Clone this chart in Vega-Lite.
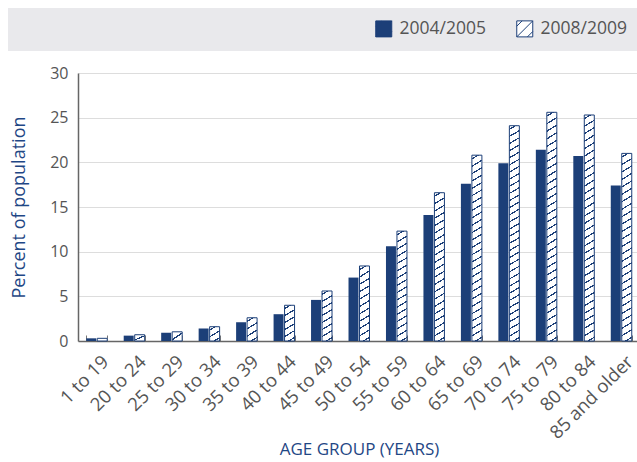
{
  "$schema": "https://vega.github.io/schema/vega-lite/v6.json",
  "width": 562,
  "height": 268,
  "autosize": {"type": "none"},
  "padding": {"left": 78, "top": 73, "right": 0, "bottom": 121},
  "background": "white",
  "config": {"font": "Open Sans", "view": {"stroke": null}},
  "data": {"values": [
    {"age": "1 to 19", "series": "2004/2005", "value": 0.3},
    {"age": "20 to 24", "series": "2004/2005", "value": 0.6},
    {"age": "25 to 29", "series": "2004/2005", "value": 0.92},
    {"age": "30 to 34", "series": "2004/2005", "value": 1.4},
    {"age": "35 to 39", "series": "2004/2005", "value": 2.1},
    {"age": "40 to 44", "series": "2004/2005", "value": 3.0},
    {"age": "45 to 49", "series": "2004/2005", "value": 4.6},
    {"age": "50 to 54", "series": "2004/2005", "value": 7.1},
    {"age": "55 to 59", "series": "2004/2005", "value": 10.6},
    {"age": "60 to 64", "series": "2004/2005", "value": 14.1},
    {"age": "65 to 69", "series": "2004/2005", "value": 17.6},
    {"age": "70 to 74", "series": "2004/2005", "value": 19.9},
    {"age": "75 to 79", "series": "2004/2005", "value": 21.4},
    {"age": "80 to 84", "series": "2004/2005", "value": 20.7},
    {"age": "85 and older", "series": "2004/2005", "value": 17.4},
    {"age": "1 to 19", "series": "2008/2009", "value": 0.3},
    {"age": "20 to 24", "series": "2008/2009", "value": 0.7},
    {"age": "25 to 29", "series": "2008/2009", "value": 1.03},
    {"age": "30 to 34", "series": "2008/2009", "value": 1.6},
    {"age": "35 to 39", "series": "2008/2009", "value": 2.6},
    {"age": "40 to 44", "series": "2008/2009", "value": 4.0},
    {"age": "45 to 49", "series": "2008/2009", "value": 5.6},
    {"age": "50 to 54", "series": "2008/2009", "value": 8.4},
    {"age": "55 to 59", "series": "2008/2009", "value": 12.3},
    {"age": "60 to 64", "series": "2008/2009", "value": 16.6},
    {"age": "65 to 69", "series": "2008/2009", "value": 20.8},
    {"age": "70 to 74", "series": "2008/2009", "value": 24.1},
    {"age": "75 to 79", "series": "2008/2009", "value": 25.6},
    {"age": "80 to 84", "series": "2008/2009", "value": 25.3},
    {"age": "85 and older", "series": "2008/2009", "value": 21.0}
  ]},
  "encoding": {
    "x": {
      "field": "age", "type": "nominal", "sort": null,
      "scale": {"paddingInner": 0.44, "paddingOuter": 0.22},
      "axis": {
        "title": "AGE GROUP (YEARS)", "labelAngle": -45, "labelFontSize": 18.5, "labelColor": "#555555",
        "labelPadding": 17, "labelOffset": 2, "labelOverlap": false, "tickBand": "extent", "tickSize": -6,
        "tickColor": "#777777", "tickWidth": 1, "domainColor": "#666666", "domainWidth": 1.5,
        "grid": false, "titleFontSize": 17, "titleFontWeight": "normal", "titleColor": "#1f4785", "titlePadding": 0
      }
    },
    "xOffset": {"field": "series", "type": "nominal", "scale": {"paddingInner": 0.09}},
    "y": {
      "field": "value", "type": "quantitative", "scale": {"domain": [0, 30]},
      "axis": {
        "title": "Percent of population", "values": [0, 5, 10, 15, 20, 25, 30], "grid": true,
        "gridColor": "#dddddd", "gridWidth": 1.2, "ticks": false, "domainColor": "#666666", "domainWidth": 1.5,
        "labelFontSize": 16, "labelColor": "#555555", "labelPadding": 10,
        "titleFontSize": 18, "titleFontWeight": "normal", "titleColor": "#1f4785", "titlePadding": 21
      }
    }
  },
  "layer": [
    {
      "mark": {"type": "bar"},
      "encoding": {
        "color": {
          "field": "series", "type": "nominal",
          "scale": {"domain": ["2004/2005", "2008/2009"], "range": ["#1c3f78", "#ffffff"]},
          "legend": {
            "orient": "none", "legendX": -70, "legendY": -65, "direction": "horizontal",
            "title": " ", "titleOrient": "left", "titleFontSize": 1, "titlePadding": 355,
            "fillColor": "#e9e9ec", "padding": 12,
            "symbolType": "M-1,-1H1V1H-1Z M-1,-0.333L-0.333,-1 M-1,1L1,-1 M0.333,1L1,0.333",
            "symbolSize": 256,
            "symbolStrokeColor": "#1c3f78", "symbolStrokeWidth": 1, "symbolOpacity": 1,
            "labelFontSize": 17.5, "labelColor": "#555555", "labelOffset": 7, "columnPadding": 28
          }
        }
      }
    },
    {
      "transform": [{"filter": "datum.series === '2008/2009'"}],
      "mark": {"type": "bar", "stroke": "#1c3f78", "strokeWidth": 1},
      "encoding": {
        "fill": {
          "condition": [
            {"test": "datum.value < 0.5", "value": "#ffffff"},
            {"test": "datum.value < 1.3", "value": {"gradient": "linear", "x1": 0, "y1": 0, "x2": 0.84, "y2": 1.12, "stops": [
              {"offset": 0.45, "color": "#fff"}, {"offset": 0.45, "color": "#1c3f78"}, {"offset": 0.55, "color": "#1c3f78"}, {"offset": 0.55, "color": "#fff"}
            ]}},
            {"test": "datum.value < 2", "value": {"gradient": "linear", "x1": 0, "y1": 0, "x2": 0.507, "y2": 1.207, "stops": [
              {"offset": 0.1322, "color": "#fff"}, {"offset": 0.1322, "color": "#1c3f78"}, {"offset": 0.2012, "color": "#1c3f78"}, {"offset": 0.2012, "color": "#fff"},
              {"offset": 0.4655, "color": "#fff"}, {"offset": 0.4655, "color": "#1c3f78"}, {"offset": 0.5345, "color": "#1c3f78"}, {"offset": 0.5345, "color": "#fff"},
              {"offset": 0.7988, "color": "#fff"}, {"offset": 0.7988, "color": "#1c3f78"}, {"offset": 0.8678, "color": "#1c3f78"}, {"offset": 0.8678, "color": "#fff"}
            ]}},
            {"test": "datum.value < 3.3", "value": {"gradient": "linear", "x1": 0, "y1": 0, "x2": 0.305, "y2": 1.18, "stops": [
              {"offset": 0.101, "color": "#fff"}, {"offset": 0.101, "color": "#1c3f78"}, {"offset": 0.149, "color": "#1c3f78"}, {"offset": 0.149, "color": "#fff"},
              {"offset": 0.351, "color": "#fff"}, {"offset": 0.351, "color": "#1c3f78"}, {"offset": 0.399, "color": "#1c3f78"}, {"offset": 0.399, "color": "#fff"},
              {"offset": 0.601, "color": "#fff"}, {"offset": 0.601, "color": "#1c3f78"}, {"offset": 0.649, "color": "#1c3f78"}, {"offset": 0.649, "color": "#fff"},
              {"offset": 0.851, "color": "#fff"}, {"offset": 0.851, "color": "#1c3f78"}, {"offset": 0.899, "color": "#1c3f78"}, {"offset": 0.899, "color": "#fff"}
            ]}},
            {"test": "datum.value < 4.8", "value": {"gradient": "linear", "x1": 0, "y1": 0, "x2": 0.191, "y2": 1.136, "stops": [
              {"offset": 0.0666, "color": "#fff"}, {"offset": 0.0666, "color": "#1c3f78"}, {"offset": 0.1, "color": "#1c3f78"}, {"offset": 0.1, "color": "#fff"},
              {"offset": 0.2333, "color": "#fff"}, {"offset": 0.2333, "color": "#1c3f78"}, {"offset": 0.2667, "color": "#1c3f78"}, {"offset": 0.2667, "color": "#fff"},
              {"offset": 0.4, "color": "#fff"}, {"offset": 0.4, "color": "#1c3f78"}, {"offset": 0.4334, "color": "#1c3f78"}, {"offset": 0.4334, "color": "#fff"},
              {"offset": 0.5666, "color": "#fff"}, {"offset": 0.5666, "color": "#1c3f78"}, {"offset": 0.6, "color": "#1c3f78"}, {"offset": 0.6, "color": "#fff"},
              {"offset": 0.7333, "color": "#fff"}, {"offset": 0.7333, "color": "#1c3f78"}, {"offset": 0.7667, "color": "#1c3f78"}, {"offset": 0.7667, "color": "#fff"},
              {"offset": 0.9, "color": "#fff"}, {"offset": 0.9, "color": "#1c3f78"}, {"offset": 0.9334, "color": "#1c3f78"}, {"offset": 0.9334, "color": "#fff"}
            ]}},
            {"test": "datum.value < 7", "value": {"gradient": "linear", "x1": 0, "y1": 0, "x2": 0.132, "y2": 1.104, "stops": [
              {"offset": 0.05, "color": "#fff"}, {"offset": 0.05, "color": "#1c3f78"}, {"offset": 0.075, "color": "#1c3f78"}, {"offset": 0.075, "color": "#fff"},
              {"offset": 0.175, "color": "#fff"}, {"offset": 0.175, "color": "#1c3f78"}, {"offset": 0.2, "color": "#1c3f78"}, {"offset": 0.2, "color": "#fff"},
              {"offset": 0.3, "color": "#fff"}, {"offset": 0.3, "color": "#1c3f78"}, {"offset": 0.325, "color": "#1c3f78"}, {"offset": 0.325, "color": "#fff"},
              {"offset": 0.425, "color": "#fff"}, {"offset": 0.425, "color": "#1c3f78"}, {"offset": 0.45, "color": "#1c3f78"}, {"offset": 0.45, "color": "#fff"},
              {"offset": 0.55, "color": "#fff"}, {"offset": 0.55, "color": "#1c3f78"}, {"offset": 0.575, "color": "#1c3f78"}, {"offset": 0.575, "color": "#fff"},
              {"offset": 0.675, "color": "#fff"}, {"offset": 0.675, "color": "#1c3f78"}, {"offset": 0.7, "color": "#1c3f78"}, {"offset": 0.7, "color": "#fff"},
              {"offset": 0.8, "color": "#fff"}, {"offset": 0.8, "color": "#1c3f78"}, {"offset": 0.825, "color": "#1c3f78"}, {"offset": 0.825, "color": "#fff"},
              {"offset": 0.925, "color": "#fff"}, {"offset": 0.925, "color": "#1c3f78"}, {"offset": 0.95, "color": "#1c3f78"}, {"offset": 0.95, "color": "#fff"}
            ]}},
            {"test": "datum.value < 10", "value": {"gradient": "linear", "x1": 0, "y1": 0, "x2": 0.0863, "y2": 1.0735, "stops": [
              {"offset": 0.0368, "color": "#fff"}, {"offset": 0.0368, "color": "#1c3f78"}, {"offset": 0.0542, "color": "#1c3f78"}, {"offset": 0.0542, "color": "#fff"},
              {"offset": 0.1277, "color": "#fff"}, {"offset": 0.1277, "color": "#1c3f78"}, {"offset": 0.1451, "color": "#1c3f78"}, {"offset": 0.1451, "color": "#fff"},
              {"offset": 0.2186, "color": "#fff"}, {"offset": 0.2186, "color": "#1c3f78"}, {"offset": 0.236, "color": "#1c3f78"}, {"offset": 0.236, "color": "#fff"},
              {"offset": 0.3095, "color": "#fff"}, {"offset": 0.3095, "color": "#1c3f78"}, {"offset": 0.3269, "color": "#1c3f78"}, {"offset": 0.3269, "color": "#fff"},
              {"offset": 0.4004, "color": "#fff"}, {"offset": 0.4004, "color": "#1c3f78"}, {"offset": 0.4178, "color": "#1c3f78"}, {"offset": 0.4178, "color": "#fff"},
              {"offset": 0.4913, "color": "#fff"}, {"offset": 0.4913, "color": "#1c3f78"}, {"offset": 0.5087, "color": "#1c3f78"}, {"offset": 0.5087, "color": "#fff"},
              {"offset": 0.5822, "color": "#fff"}, {"offset": 0.5822, "color": "#1c3f78"}, {"offset": 0.5996, "color": "#1c3f78"}, {"offset": 0.5996, "color": "#fff"},
              {"offset": 0.6731, "color": "#fff"}, {"offset": 0.6731, "color": "#1c3f78"}, {"offset": 0.6905, "color": "#1c3f78"}, {"offset": 0.6905, "color": "#fff"},
              {"offset": 0.764, "color": "#fff"}, {"offset": 0.764, "color": "#1c3f78"}, {"offset": 0.7814, "color": "#1c3f78"}, {"offset": 0.7814, "color": "#fff"},
              {"offset": 0.8549, "color": "#fff"}, {"offset": 0.8549, "color": "#1c3f78"}, {"offset": 0.8723, "color": "#1c3f78"}, {"offset": 0.8723, "color": "#fff"},
              {"offset": 0.9458, "color": "#fff"}, {"offset": 0.9458, "color": "#1c3f78"}, {"offset": 0.9632, "color": "#1c3f78"}, {"offset": 0.9632, "color": "#fff"}
            ]}},
            {"test": "datum.value < 14", "value": {"gradient": "linear", "x1": 0, "y1": 0, "x2": 0.0573, "y2": 1.0514, "stops": [
              {"offset": 0.0253, "color": "#fff"}, {"offset": 0.0253, "color": "#1c3f78"}, {"offset": 0.0373, "color": "#1c3f78"}, {"offset": 0.0373, "color": "#fff"},
              {"offset": 0.0878, "color": "#fff"}, {"offset": 0.0878, "color": "#1c3f78"}, {"offset": 0.0998, "color": "#1c3f78"}, {"offset": 0.0998, "color": "#fff"},
              {"offset": 0.1503, "color": "#fff"}, {"offset": 0.1503, "color": "#1c3f78"}, {"offset": 0.1623, "color": "#1c3f78"}, {"offset": 0.1623, "color": "#fff"},
              {"offset": 0.2128, "color": "#fff"}, {"offset": 0.2128, "color": "#1c3f78"}, {"offset": 0.2248, "color": "#1c3f78"}, {"offset": 0.2248, "color": "#fff"},
              {"offset": 0.2753, "color": "#fff"}, {"offset": 0.2753, "color": "#1c3f78"}, {"offset": 0.2873, "color": "#1c3f78"}, {"offset": 0.2873, "color": "#fff"},
              {"offset": 0.3378, "color": "#fff"}, {"offset": 0.3378, "color": "#1c3f78"}, {"offset": 0.3498, "color": "#1c3f78"}, {"offset": 0.3498, "color": "#fff"},
              {"offset": 0.4003, "color": "#fff"}, {"offset": 0.4003, "color": "#1c3f78"}, {"offset": 0.4123, "color": "#1c3f78"}, {"offset": 0.4123, "color": "#fff"},
              {"offset": 0.4628, "color": "#fff"}, {"offset": 0.4628, "color": "#1c3f78"}, {"offset": 0.4748, "color": "#1c3f78"}, {"offset": 0.4748, "color": "#fff"},
              {"offset": 0.5253, "color": "#fff"}, {"offset": 0.5253, "color": "#1c3f78"}, {"offset": 0.5373, "color": "#1c3f78"}, {"offset": 0.5373, "color": "#fff"},
              {"offset": 0.5878, "color": "#fff"}, {"offset": 0.5878, "color": "#1c3f78"}, {"offset": 0.5998, "color": "#1c3f78"}, {"offset": 0.5998, "color": "#fff"},
              {"offset": 0.6503, "color": "#fff"}, {"offset": 0.6503, "color": "#1c3f78"}, {"offset": 0.6623, "color": "#1c3f78"}, {"offset": 0.6623, "color": "#fff"},
              {"offset": 0.7128, "color": "#fff"}, {"offset": 0.7128, "color": "#1c3f78"}, {"offset": 0.7248, "color": "#1c3f78"}, {"offset": 0.7248, "color": "#fff"},
              {"offset": 0.7753, "color": "#fff"}, {"offset": 0.7753, "color": "#1c3f78"}, {"offset": 0.7873, "color": "#1c3f78"}, {"offset": 0.7873, "color": "#fff"},
              {"offset": 0.8378, "color": "#fff"}, {"offset": 0.8378, "color": "#1c3f78"}, {"offset": 0.8498, "color": "#1c3f78"}, {"offset": 0.8498, "color": "#fff"},
              {"offset": 0.9003, "color": "#fff"}, {"offset": 0.9003, "color": "#1c3f78"}, {"offset": 0.9123, "color": "#1c3f78"}, {"offset": 0.9123, "color": "#fff"},
              {"offset": 0.9628, "color": "#fff"}, {"offset": 0.9628, "color": "#1c3f78"}, {"offset": 0.9748, "color": "#1c3f78"}, {"offset": 0.9748, "color": "#fff"}
            ]}},
            {"test": "datum.value < 18.5", "value": {"gradient": "linear", "x1": 0, "y1": 0, "x2": 0.0421, "y2": 1.0388, "stops": [
              {"offset": 0.0193, "color": "#fff"}, {"offset": 0.0193, "color": "#1c3f78"}, {"offset": 0.0283, "color": "#1c3f78"}, {"offset": 0.0283, "color": "#fff"},
              {"offset": 0.0669, "color": "#fff"}, {"offset": 0.0669, "color": "#1c3f78"}, {"offset": 0.0759, "color": "#1c3f78"}, {"offset": 0.0759, "color": "#fff"},
              {"offset": 0.1145, "color": "#fff"}, {"offset": 0.1145, "color": "#1c3f78"}, {"offset": 0.1235, "color": "#1c3f78"}, {"offset": 0.1235, "color": "#fff"},
              {"offset": 0.1622, "color": "#fff"}, {"offset": 0.1622, "color": "#1c3f78"}, {"offset": 0.1712, "color": "#1c3f78"}, {"offset": 0.1712, "color": "#fff"},
              {"offset": 0.2098, "color": "#fff"}, {"offset": 0.2098, "color": "#1c3f78"}, {"offset": 0.2188, "color": "#1c3f78"}, {"offset": 0.2188, "color": "#fff"},
              {"offset": 0.2574, "color": "#fff"}, {"offset": 0.2574, "color": "#1c3f78"}, {"offset": 0.2664, "color": "#1c3f78"}, {"offset": 0.2664, "color": "#fff"},
              {"offset": 0.305, "color": "#fff"}, {"offset": 0.305, "color": "#1c3f78"}, {"offset": 0.314, "color": "#1c3f78"}, {"offset": 0.314, "color": "#fff"},
              {"offset": 0.3526, "color": "#fff"}, {"offset": 0.3526, "color": "#1c3f78"}, {"offset": 0.3616, "color": "#1c3f78"}, {"offset": 0.3616, "color": "#fff"},
              {"offset": 0.4003, "color": "#fff"}, {"offset": 0.4003, "color": "#1c3f78"}, {"offset": 0.4093, "color": "#1c3f78"}, {"offset": 0.4093, "color": "#fff"},
              {"offset": 0.4479, "color": "#fff"}, {"offset": 0.4479, "color": "#1c3f78"}, {"offset": 0.4569, "color": "#1c3f78"}, {"offset": 0.4569, "color": "#fff"},
              {"offset": 0.4955, "color": "#fff"}, {"offset": 0.4955, "color": "#1c3f78"}, {"offset": 0.5045, "color": "#1c3f78"}, {"offset": 0.5045, "color": "#fff"},
              {"offset": 0.5431, "color": "#fff"}, {"offset": 0.5431, "color": "#1c3f78"}, {"offset": 0.5521, "color": "#1c3f78"}, {"offset": 0.5521, "color": "#fff"},
              {"offset": 0.5907, "color": "#fff"}, {"offset": 0.5907, "color": "#1c3f78"}, {"offset": 0.5997, "color": "#1c3f78"}, {"offset": 0.5997, "color": "#fff"},
              {"offset": 0.6384, "color": "#fff"}, {"offset": 0.6384, "color": "#1c3f78"}, {"offset": 0.6474, "color": "#1c3f78"}, {"offset": 0.6474, "color": "#fff"},
              {"offset": 0.686, "color": "#fff"}, {"offset": 0.686, "color": "#1c3f78"}, {"offset": 0.695, "color": "#1c3f78"}, {"offset": 0.695, "color": "#fff"},
              {"offset": 0.7336, "color": "#fff"}, {"offset": 0.7336, "color": "#1c3f78"}, {"offset": 0.7426, "color": "#1c3f78"}, {"offset": 0.7426, "color": "#fff"},
              {"offset": 0.7812, "color": "#fff"}, {"offset": 0.7812, "color": "#1c3f78"}, {"offset": 0.7902, "color": "#1c3f78"}, {"offset": 0.7902, "color": "#fff"},
              {"offset": 0.8288, "color": "#fff"}, {"offset": 0.8288, "color": "#1c3f78"}, {"offset": 0.8378, "color": "#1c3f78"}, {"offset": 0.8378, "color": "#fff"},
              {"offset": 0.8765, "color": "#fff"}, {"offset": 0.8765, "color": "#1c3f78"}, {"offset": 0.8855, "color": "#1c3f78"}, {"offset": 0.8855, "color": "#fff"},
              {"offset": 0.9241, "color": "#fff"}, {"offset": 0.9241, "color": "#1c3f78"}, {"offset": 0.9331, "color": "#1c3f78"}, {"offset": 0.9331, "color": "#fff"},
              {"offset": 0.9717, "color": "#fff"}, {"offset": 0.9717, "color": "#1c3f78"}, {"offset": 0.9807, "color": "#1c3f78"}, {"offset": 0.9807, "color": "#fff"}
            ]}},
            {"test": "datum.value < 22.5", "value": {"gradient": "linear", "x1": 0, "y1": 0, "x2": 0.0331, "y2": 1.031, "stops": [
              {"offset": 0.0156, "color": "#fff"}, {"offset": 0.0156, "color": "#1c3f78"}, {"offset": 0.0228, "color": "#1c3f78"}, {"offset": 0.0228, "color": "#fff"},
              {"offset": 0.0541, "color": "#fff"}, {"offset": 0.0541, "color": "#1c3f78"}, {"offset": 0.0613, "color": "#1c3f78"}, {"offset": 0.0613, "color": "#fff"},
              {"offset": 0.0926, "color": "#fff"}, {"offset": 0.0926, "color": "#1c3f78"}, {"offset": 0.0998, "color": "#1c3f78"}, {"offset": 0.0998, "color": "#fff"},
              {"offset": 0.131, "color": "#fff"}, {"offset": 0.131, "color": "#1c3f78"}, {"offset": 0.1382, "color": "#1c3f78"}, {"offset": 0.1382, "color": "#fff"},
              {"offset": 0.1695, "color": "#fff"}, {"offset": 0.1695, "color": "#1c3f78"}, {"offset": 0.1767, "color": "#1c3f78"}, {"offset": 0.1767, "color": "#fff"},
              {"offset": 0.2079, "color": "#fff"}, {"offset": 0.2079, "color": "#1c3f78"}, {"offset": 0.2151, "color": "#1c3f78"}, {"offset": 0.2151, "color": "#fff"},
              {"offset": 0.2464, "color": "#fff"}, {"offset": 0.2464, "color": "#1c3f78"}, {"offset": 0.2536, "color": "#1c3f78"}, {"offset": 0.2536, "color": "#fff"},
              {"offset": 0.2849, "color": "#fff"}, {"offset": 0.2849, "color": "#1c3f78"}, {"offset": 0.2921, "color": "#1c3f78"}, {"offset": 0.2921, "color": "#fff"},
              {"offset": 0.3233, "color": "#fff"}, {"offset": 0.3233, "color": "#1c3f78"}, {"offset": 0.3305, "color": "#1c3f78"}, {"offset": 0.3305, "color": "#fff"},
              {"offset": 0.3618, "color": "#fff"}, {"offset": 0.3618, "color": "#1c3f78"}, {"offset": 0.369, "color": "#1c3f78"}, {"offset": 0.369, "color": "#fff"},
              {"offset": 0.4002, "color": "#fff"}, {"offset": 0.4002, "color": "#1c3f78"}, {"offset": 0.4074, "color": "#1c3f78"}, {"offset": 0.4074, "color": "#fff"},
              {"offset": 0.4387, "color": "#fff"}, {"offset": 0.4387, "color": "#1c3f78"}, {"offset": 0.4459, "color": "#1c3f78"}, {"offset": 0.4459, "color": "#fff"},
              {"offset": 0.4772, "color": "#fff"}, {"offset": 0.4772, "color": "#1c3f78"}, {"offset": 0.4844, "color": "#1c3f78"}, {"offset": 0.4844, "color": "#fff"},
              {"offset": 0.5156, "color": "#fff"}, {"offset": 0.5156, "color": "#1c3f78"}, {"offset": 0.5228, "color": "#1c3f78"}, {"offset": 0.5228, "color": "#fff"},
              {"offset": 0.5541, "color": "#fff"}, {"offset": 0.5541, "color": "#1c3f78"}, {"offset": 0.5613, "color": "#1c3f78"}, {"offset": 0.5613, "color": "#fff"},
              {"offset": 0.5926, "color": "#fff"}, {"offset": 0.5926, "color": "#1c3f78"}, {"offset": 0.5998, "color": "#1c3f78"}, {"offset": 0.5998, "color": "#fff"},
              {"offset": 0.631, "color": "#fff"}, {"offset": 0.631, "color": "#1c3f78"}, {"offset": 0.6382, "color": "#1c3f78"}, {"offset": 0.6382, "color": "#fff"},
              {"offset": 0.6695, "color": "#fff"}, {"offset": 0.6695, "color": "#1c3f78"}, {"offset": 0.6767, "color": "#1c3f78"}, {"offset": 0.6767, "color": "#fff"},
              {"offset": 0.7079, "color": "#fff"}, {"offset": 0.7079, "color": "#1c3f78"}, {"offset": 0.7151, "color": "#1c3f78"}, {"offset": 0.7151, "color": "#fff"},
              {"offset": 0.7464, "color": "#fff"}, {"offset": 0.7464, "color": "#1c3f78"}, {"offset": 0.7536, "color": "#1c3f78"}, {"offset": 0.7536, "color": "#fff"},
              {"offset": 0.7849, "color": "#fff"}, {"offset": 0.7849, "color": "#1c3f78"}, {"offset": 0.7921, "color": "#1c3f78"}, {"offset": 0.7921, "color": "#fff"},
              {"offset": 0.8233, "color": "#fff"}, {"offset": 0.8233, "color": "#1c3f78"}, {"offset": 0.8305, "color": "#1c3f78"}, {"offset": 0.8305, "color": "#fff"},
              {"offset": 0.8618, "color": "#fff"}, {"offset": 0.8618, "color": "#1c3f78"}, {"offset": 0.869, "color": "#1c3f78"}, {"offset": 0.869, "color": "#fff"},
              {"offset": 0.9002, "color": "#fff"}, {"offset": 0.9002, "color": "#1c3f78"}, {"offset": 0.9074, "color": "#1c3f78"}, {"offset": 0.9074, "color": "#fff"},
              {"offset": 0.9387, "color": "#fff"}, {"offset": 0.9387, "color": "#1c3f78"}, {"offset": 0.9459, "color": "#1c3f78"}, {"offset": 0.9459, "color": "#fff"},
              {"offset": 0.9772, "color": "#fff"}, {"offset": 0.9772, "color": "#1c3f78"}, {"offset": 0.9844, "color": "#1c3f78"}, {"offset": 0.9844, "color": "#fff"}
            ]}}
          ],
          "value": {"gradient": "linear", "x1": 0, "y1": 0, "x2": 0.0276, "y2": 1.0262, "stops": [
            {"offset": 0.013, "color": "#fff"}, {"offset": 0.013, "color": "#1c3f78"}, {"offset": 0.0192, "color": "#1c3f78"}, {"offset": 0.0192, "color": "#fff"},
            {"offset": 0.0453, "color": "#fff"}, {"offset": 0.0453, "color": "#1c3f78"}, {"offset": 0.0515, "color": "#1c3f78"}, {"offset": 0.0515, "color": "#fff"},
            {"offset": 0.0775, "color": "#fff"}, {"offset": 0.0775, "color": "#1c3f78"}, {"offset": 0.0837, "color": "#1c3f78"}, {"offset": 0.0837, "color": "#fff"},
            {"offset": 0.1098, "color": "#fff"}, {"offset": 0.1098, "color": "#1c3f78"}, {"offset": 0.116, "color": "#1c3f78"}, {"offset": 0.116, "color": "#fff"},
            {"offset": 0.1421, "color": "#fff"}, {"offset": 0.1421, "color": "#1c3f78"}, {"offset": 0.1483, "color": "#1c3f78"}, {"offset": 0.1483, "color": "#fff"},
            {"offset": 0.1743, "color": "#fff"}, {"offset": 0.1743, "color": "#1c3f78"}, {"offset": 0.1805, "color": "#1c3f78"}, {"offset": 0.1805, "color": "#fff"},
            {"offset": 0.2066, "color": "#fff"}, {"offset": 0.2066, "color": "#1c3f78"}, {"offset": 0.2128, "color": "#1c3f78"}, {"offset": 0.2128, "color": "#fff"},
            {"offset": 0.2388, "color": "#fff"}, {"offset": 0.2388, "color": "#1c3f78"}, {"offset": 0.245, "color": "#1c3f78"}, {"offset": 0.245, "color": "#fff"},
            {"offset": 0.2711, "color": "#fff"}, {"offset": 0.2711, "color": "#1c3f78"}, {"offset": 0.2773, "color": "#1c3f78"}, {"offset": 0.2773, "color": "#fff"},
            {"offset": 0.3034, "color": "#fff"}, {"offset": 0.3034, "color": "#1c3f78"}, {"offset": 0.3096, "color": "#1c3f78"}, {"offset": 0.3096, "color": "#fff"},
            {"offset": 0.3356, "color": "#fff"}, {"offset": 0.3356, "color": "#1c3f78"}, {"offset": 0.3418, "color": "#1c3f78"}, {"offset": 0.3418, "color": "#fff"},
            {"offset": 0.3679, "color": "#fff"}, {"offset": 0.3679, "color": "#1c3f78"}, {"offset": 0.3741, "color": "#1c3f78"}, {"offset": 0.3741, "color": "#fff"},
            {"offset": 0.4001, "color": "#fff"}, {"offset": 0.4001, "color": "#1c3f78"}, {"offset": 0.4063, "color": "#1c3f78"}, {"offset": 0.4063, "color": "#fff"},
            {"offset": 0.4324, "color": "#fff"}, {"offset": 0.4324, "color": "#1c3f78"}, {"offset": 0.4386, "color": "#1c3f78"}, {"offset": 0.4386, "color": "#fff"},
            {"offset": 0.4646, "color": "#fff"}, {"offset": 0.4646, "color": "#1c3f78"}, {"offset": 0.4708, "color": "#1c3f78"}, {"offset": 0.4708, "color": "#fff"},
            {"offset": 0.4969, "color": "#fff"}, {"offset": 0.4969, "color": "#1c3f78"}, {"offset": 0.5031, "color": "#1c3f78"}, {"offset": 0.5031, "color": "#fff"},
            {"offset": 0.5292, "color": "#fff"}, {"offset": 0.5292, "color": "#1c3f78"}, {"offset": 0.5354, "color": "#1c3f78"}, {"offset": 0.5354, "color": "#fff"},
            {"offset": 0.5614, "color": "#fff"}, {"offset": 0.5614, "color": "#1c3f78"}, {"offset": 0.5676, "color": "#1c3f78"}, {"offset": 0.5676, "color": "#fff"},
            {"offset": 0.5937, "color": "#fff"}, {"offset": 0.5937, "color": "#1c3f78"}, {"offset": 0.5999, "color": "#1c3f78"}, {"offset": 0.5999, "color": "#fff"},
            {"offset": 0.6259, "color": "#fff"}, {"offset": 0.6259, "color": "#1c3f78"}, {"offset": 0.6321, "color": "#1c3f78"}, {"offset": 0.6321, "color": "#fff"},
            {"offset": 0.6582, "color": "#fff"}, {"offset": 0.6582, "color": "#1c3f78"}, {"offset": 0.6644, "color": "#1c3f78"}, {"offset": 0.6644, "color": "#fff"},
            {"offset": 0.6904, "color": "#fff"}, {"offset": 0.6904, "color": "#1c3f78"}, {"offset": 0.6966, "color": "#1c3f78"}, {"offset": 0.6966, "color": "#fff"},
            {"offset": 0.7227, "color": "#fff"}, {"offset": 0.7227, "color": "#1c3f78"}, {"offset": 0.7289, "color": "#1c3f78"}, {"offset": 0.7289, "color": "#fff"},
            {"offset": 0.755, "color": "#fff"}, {"offset": 0.755, "color": "#1c3f78"}, {"offset": 0.7612, "color": "#1c3f78"}, {"offset": 0.7612, "color": "#fff"},
            {"offset": 0.7872, "color": "#fff"}, {"offset": 0.7872, "color": "#1c3f78"}, {"offset": 0.7934, "color": "#1c3f78"}, {"offset": 0.7934, "color": "#fff"},
            {"offset": 0.8195, "color": "#fff"}, {"offset": 0.8195, "color": "#1c3f78"}, {"offset": 0.8257, "color": "#1c3f78"}, {"offset": 0.8257, "color": "#fff"},
            {"offset": 0.8517, "color": "#fff"}, {"offset": 0.8517, "color": "#1c3f78"}, {"offset": 0.8579, "color": "#1c3f78"}, {"offset": 0.8579, "color": "#fff"},
            {"offset": 0.884, "color": "#fff"}, {"offset": 0.884, "color": "#1c3f78"}, {"offset": 0.8902, "color": "#1c3f78"}, {"offset": 0.8902, "color": "#fff"},
            {"offset": 0.9163, "color": "#fff"}, {"offset": 0.9163, "color": "#1c3f78"}, {"offset": 0.9225, "color": "#1c3f78"}, {"offset": 0.9225, "color": "#fff"},
            {"offset": 0.9485, "color": "#fff"}, {"offset": 0.9485, "color": "#1c3f78"}, {"offset": 0.9547, "color": "#1c3f78"}, {"offset": 0.9547, "color": "#fff"},
            {"offset": 0.9808, "color": "#fff"}, {"offset": 0.9808, "color": "#1c3f78"}, {"offset": 0.987, "color": "#1c3f78"}, {"offset": 0.987, "color": "#fff"}
          ]}
        }
      }
    }
  ]
}
